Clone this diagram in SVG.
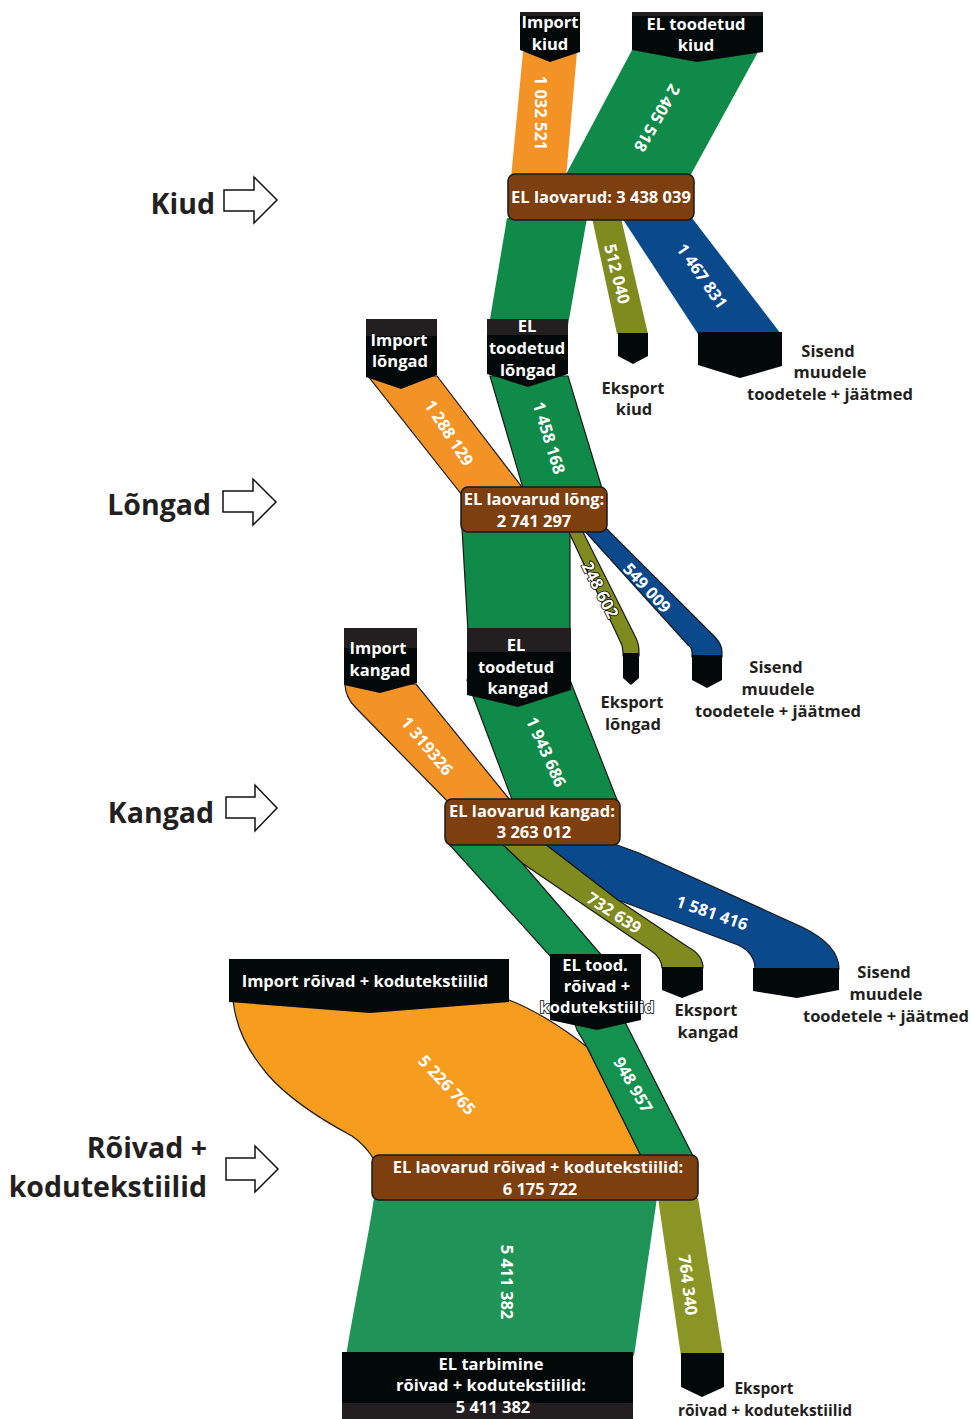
<svg xmlns="http://www.w3.org/2000/svg" width="971" height="1419" viewBox="0 0 971 1419">
<style>
text{font-family:"Open Sans","Noto Sans","Liberation Sans",sans-serif;font-weight:700}
.bw{fill:#fff;font-size:16.5px;text-anchor:middle}
.num{fill:#fff;font-size:16.5px;text-anchor:middle}
.lab{fill:#231f20;font-size:16.5px;text-anchor:middle}
.sm{font-size:15.5px}
.big{fill:#231f20;font-size:28.5px;text-anchor:end}
.ol{stroke:#000;stroke-width:1.6px;paint-order:stroke}
.blk{fill:#030808}
.gry{fill:#231f20}
.brn{fill:#7d3f0d;stroke:#1a1a1a;stroke-width:1.5}
.arr{fill:#fff;stroke:#111;stroke-width:1.5;stroke-linejoin:miter}
.s{stroke:#1a1a1a;stroke-width:1.2}
.or{fill:#f39325}.gr{fill:#0f8a48}.olv{fill:#7f8a1f}.bl{fill:#0a4a8c}
</style>

<g id="connectors">
  <!-- Kiud -->
  <path class="or" d="M523,52 L577,52 L566,178 L511,178 Z"/>
  <path class="gr" d="M632,50 L758,52 L689,178 L564,178 Z"/>
  <path class="gr" d="M507,218 L587,218 L568,325 L489,325 Z"/>
  <path class="olv" d="M592,218 L621,218 L648,334 L617,334 Z"/>
  <path class="bl" d="M622,218 L692,218 L781,334 L698,334 Z"/>
  <!-- Lõngad -->
  <path class="or s" d="M368,376 L437,376 L528,495 L462,495 Z"/>
  <path class="gr s" d="M490,376 L568,376 L604,495 L525,495 Z"/>
  <path class="gr s" d="M462,528 L570,528 L570,632 L468,632 Z"/>
  <path class="olv s" d="M567,528 L581,528 L635,636 Q639,643 639,652 L639,656 L623,656 L623,652 Q623,646 620,641 Z"/>
  <path class="bl s" d="M582,528 L606,528 L714,636 Q722,644 722,652 L722,657 L692,657 L692,652 Q692,648 688,645 Z"/>
  <!-- Kangad -->
  <path class="or s" d="M345,684 L416,684 L514,805 L451,805 L356,708 Q345,697 345,684 Z"/>
  <path class="gr s" d="M467,680 L570,680 L619,805 L514,805 Z"/>
  <path class="olv s" d="M501,843 L544,843 L618,900 L688,947 Q703,955 703,968 L662,968 Q662,958 650,950 L522,863 Z"/>
  <path class="bl s" d="M544,843 L612,843 Q625,848 639,853 L802,927 Q839,945 839,969 L755,969 Q755,953 738,945 L618,900 Z"/>
  <!-- Rõivad -->
  <path class="s" fill="#f69c1e" d="M233,1000 L509,1000 C530,1008 560,1025 587,1047 L642,1158 L373,1158 C368,1150 362,1143 352,1136 C322,1120 290,1100 268,1075 C247,1050 236,1028 233,1000 Z"/>
  <path class="s" fill="#14904f" d="M448,843 L501,843 L522,863 L604,958 L625,1022 L694,1158 L642,1158 L587,1047 L577,1030 L552,958 Z"/>
  <path fill="#1f9456" d="M374,1198 L657,1198 L634,1356 L346,1356 C355,1300 368,1240 374,1198 Z"/>
  <path fill="#8a9526" d="M658,1198 L698,1198 L723,1356 L681,1356 Z"/>
</g>

<g id="flow-labels">
  <text class="num" transform="translate(541,113) rotate(90)" dy="0.35em">1 032 521</text>
  <text class="num" transform="translate(657,118) rotate(120)" dy="0.35em">2 405 518</text>
  <text class="num" transform="translate(617,274) rotate(76)" dy="0.35em">512 040</text>
  <text class="num" transform="translate(702,276) rotate(55)" dy="0.35em">1 467 831</text>
  <text class="num" transform="translate(449,433) rotate(57)" dy="0.35em">1 288 129</text>
  <text class="num" transform="translate(549,438) rotate(73)" dy="0.35em">1 458 168</text>
  <text class="num ol" transform="translate(600,590) rotate(63)" dy="0.35em">248 602</text>
  <text class="num" transform="translate(647,588) rotate(47)" dy="0.35em">549 009</text>
  <text class="num" transform="translate(427,746) rotate(50)" dy="0.35em">1 319326</text>
  <text class="num" transform="translate(546,752) rotate(66)" dy="0.35em">1 943 686</text>
  <text class="num" transform="translate(614,913) rotate(33)" dy="0.35em">732 639</text>
  <text class="num" transform="translate(712,913) rotate(19)" dy="0.35em">1 581 416</text>
  <text class="num" transform="translate(447,1085) rotate(47)" dy="0.35em">5 226 765</text>
  <text class="num" transform="translate(633,1085) rotate(60)" dy="0.35em">948 957</text>
  <text class="num" transform="translate(507,1282) rotate(90)" dy="0.35em">5 411 382</text>
  <text class="num" transform="translate(688,1285) rotate(83)" dy="0.35em">764 340</text>
</g>

<g id="section-kiud">
  <text class="big" x="215" y="214">Kiud</text>
  <path class="arr" d="M224,190 L254,190 L254,177 L277,200 L254,223 L254,211 L224,211 Z"/>
</g>
<g id="section-longad">
  <text class="big" x="211" y="515">Lõngad</text>
  <path class="arr" d="M223,491 L253,491 L253,479 L276,502 L253,525 L253,512 L223,512 Z"/>
</g>
<g id="section-kangad">
  <text class="big" x="214" y="823">Kangad</text>
  <path class="arr" d="M226,797 L255,797 L255,785 L277,808 L255,831 L255,818 L226,818 Z"/>
</g>
<g id="section-roivad">
  <text class="big" x="207" y="1158">Rõivad +</text>
  <text class="big" x="207" y="1197">kodutekstiilid</text>
  <path class="arr" d="M226,1158 L255,1158 L255,1146 L278,1169 L255,1192 L255,1180 L226,1180 Z"/>
</g>

<g id="import-kiud">
  <path class="blk" d="M520,12 L580,12 L580,52 L550,62 L520,50 Z"/>
  <rect class="gry" x="520" y="12" width="60" height="4"/>
  <text class="bw" x="550" y="28">Import</text>
  <text class="bw" x="550" y="50">kiud</text>
</g>
<g id="el-toodetud-kiud">
  <path class="blk" d="M632,12 L763,12 L763,52 L697,62 L632,50 Z"/>
  <rect class="gry" x="632" y="12" width="131" height="4"/>
  <text class="bw" x="696" y="30">EL toodetud</text>
  <text class="bw" x="696" y="51">kiud</text>
</g>
<g id="laovarud-kiud">
  <rect class="brn" x="508" y="174" width="186" height="46" rx="7"/>
  <text class="bw" x="601" y="203">EL laovarud: 3 438 039</text>
</g>
<g id="eksport-kiud">
  <path class="blk" d="M618,333 L648,333 L648,356 L633,364 L618,356 Z"/>
  <text class="lab" x="633" y="394">Eksport</text>
  <text class="lab" x="634" y="415">kiud</text>
</g>
<g id="sisend-kiud">
  <path class="blk" d="M698,332 L782,332 L782,366 L740,378 L698,365 Z"/>
  <text class="lab" x="828" y="357">Sisend</text>
  <text class="lab" x="830" y="378">muudele</text>
  <text class="lab" x="830" y="400">toodetele + jäätmed</text>
</g>

<g id="import-longad">
  <path class="blk" d="M366,319 L437,319 L437,375 L401,389 L366,377 Z"/>
  <rect class="gry" x="366" y="319" width="71" height="17"/>
  <text class="bw" x="399" y="346">Import</text>
  <text class="bw" x="400" y="367">lõngad</text>
</g>
<g id="el-toodetud-longad">
  <path class="blk" d="M487,319 L568,319 L568,374 L528,387 L487,374 Z"/>
  <rect class="gry" x="487" y="319" width="81" height="16"/>
  <text class="bw" x="527" y="332">EL</text>
  <text class="bw" x="527" y="354">toodetud</text>
  <text class="bw" x="528" y="376">lõngad</text>
</g>
<g id="laovarud-longad">
  <rect class="brn" x="461" y="487" width="146" height="45" rx="7"/>
  <text class="bw" x="534" y="505">EL laovarud lõng:</text>
  <text class="bw" x="534" y="527">2 741 297</text>
</g>
<g id="eksport-longad">
  <path class="blk" d="M623,653 L639,653 L639,678 L631,685 L623,678 Z"/>
  <text class="lab" x="632" y="708">Eksport</text>
  <text class="lab" x="633" y="730">lõngad</text>
</g>
<g id="sisend-longad">
  <path class="blk" d="M692,655 L722,655 L722,680 L707,688 L692,680 Z"/>
  <text class="lab" x="776" y="673">Sisend</text>
  <text class="lab" x="778" y="695">muudele</text>
  <text class="lab" x="778" y="717">toodetele + jäätmed</text>
</g>

<g id="import-kangad">
  <path class="blk" d="M344,628 L417,628 L417,683 L380,693 L344,685 Z"/>
  <rect class="gry" x="344" y="628" width="73" height="20"/>
  <text class="bw" x="378" y="654">Import</text>
  <text class="bw" x="380" y="676">kangad</text>
</g>
<g id="el-toodetud-kangad">
  <path class="blk" d="M467,628 L571,628 L571,690 L518,707 L467,695 Z"/>
  <rect class="gry" x="467" y="628" width="104" height="24"/>
  <text class="bw" x="516" y="651">EL</text>
  <text class="bw" x="516" y="673">toodetud</text>
  <text class="bw" x="518" y="694">kangad</text>
</g>
<g id="laovarud-kangad">
  <rect class="brn" x="445" y="799" width="175" height="46" rx="7"/>
  <text class="bw" x="532" y="817">EL laovarud kangad:</text>
  <text class="bw" x="534" y="838">3 263 012</text>
</g>
<g id="eksport-kangad">
  <path class="blk" d="M662,967 L703,967 L703,990 L682,998 L662,990 Z"/>
  <text class="lab" x="706" y="1016">Eksport</text>
  <text class="lab" x="708" y="1038">kangad</text>
</g>
<g id="sisend-kangad">
  <path class="blk" d="M753,968 L839,968 L839,990 L797,998 L753,991 Z"/>
  <text class="lab" x="884" y="978">Sisend</text>
  <text class="lab" x="886" y="1000">muudele</text>
  <text class="lab" x="886" y="1022">toodetele + jäätmed</text>
</g>

<g id="import-roivad">
  <path class="blk" d="M229,959 L509,959 L509,1002 L370,1013 L229,1002 Z"/>
  <text class="bw" x="365" y="987">Import rõivad + kodutekstiilid</text>
</g>
<g id="el-tood-roivad">
  <path class="blk" d="M550,954 L641,954 L641,1020 L597,1030 L550,1020 Z"/>
  <text class="bw" x="595" y="971">EL tood.</text>
  <text class="bw" x="597" y="992">rõivad +</text>
  <text class="bw ol" x="597" y="1013">kodutekstiilid</text>
</g>
<g id="laovarud-roivad">
  <rect class="brn" x="372" y="1155" width="326" height="45" rx="7"/>
  <text class="bw" x="538" y="1173">EL laovarud rõivad + kodutekstiilid:</text>
  <text class="bw" x="540" y="1195">6 175 722</text>
</g>
<g id="el-tarbimine">
  <rect class="blk" x="342" y="1352" width="291" height="67"/>
  <rect class="gry" x="342" y="1403" width="291" height="16"/>
  <text class="bw" x="491" y="1370">EL tarbimine</text>
  <text class="bw" x="491" y="1391">rõivad + kodutekstiilid:</text>
  <text class="bw" x="493" y="1413">5 411 382</text>
</g>
<g id="eksport-roivad">
  <path class="blk" d="M681,1353 L724,1353 L724,1387 L702,1397 L681,1387 Z"/>
  <text class="lab sm" x="764" y="1394">Eksport</text>
  <text class="lab sm" x="765" y="1416">rõivad + kodutekstiilid</text>
</g>
</svg>
